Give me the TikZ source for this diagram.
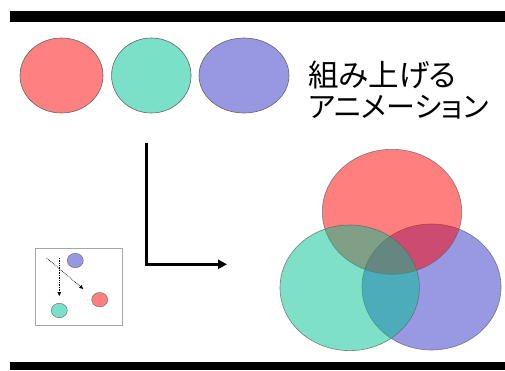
\documentclass[tikz,border=0pt]{standalone}
\usepackage{fontspec}
\newfontfamily\jpfont[RawFeature=+palt]{Noto Sans CJK JP}
\usetikzlibrary{arrows.meta,shapes.geometric}
\definecolor{cred}{RGB}{255,128,128}
\definecolor{cgreen}{RGB}{122,224,200}
\definecolor{cblue}{RGB}{152,152,226}
\definecolor{bred}{RGB}{255,0,0}
\definecolor{bgreen}{RGB}{0,193,145}
\definecolor{bblue}{RGB}{51,51,200}
\definecolor{edge}{RGB}{100,100,100}
\tikzset{
  bar/.style={fill=black,draw=none},
  oval/.style={ellipse,draw=edge,line width=0.6pt,inner sep=0pt},
  venn/.style={ellipse,draw=edge,line width=0.6pt,inner sep=0pt,fill opacity=0.5,draw opacity=0.8},
  small/.style={ellipse,draw=edge,line width=0.4pt,inner sep=0pt,minimum width=16pt,minimum height=14.5pt},
  jp/.style={anchor=base west,inner sep=0pt,font=\jpfont\fontsize{30.5}{36}\selectfont},
  jptwo/.style={anchor=base west,inner sep=0pt,font=\jpfont\fontsize{29}{36}\selectfont},
  bigarrow/.style={line width=2.6pt,-{Triangle[length=9pt,width=9pt]}},
  dotarrow/.style={densely dotted,line width=0.7pt,-{Triangle[length=4pt,width=3.5pt]}}
}
\begin{document}
\begin{tikzpicture}[x=1pt,y=-1pt]
\useasboundingbox (0,0) rectangle (505,370);
\fill[bar] (10,11) rectangle (505,22);
\fill[bar] (10,362) rectangle (505,370);
% top ovals
\node[oval,fill=cred,minimum width=83pt,minimum height=75pt] (r1) at (61.5,75.5) {};
\node[oval,fill=cgreen,minimum width=79.5pt,minimum height=75pt] (g1) at (151.3,75.5) {};
\node[oval,fill=cblue,minimum width=90pt,minimum height=75pt] (b1) at (244,75.5) {};
% text
\node[jp] (t1) at (308,86) {組み上げる};
\node[jptwo] (t2) at (308,117.5) {アニメーション};
% L arrow
\coordinate (la) at (146.7,142.7);
\coordinate (lb) at (146.7,264.3);
\coordinate (lc) at (227,264.3);
\draw[bigarrow] (la) -- (lb) -- (lc);
% inset
\node[draw=gray!70,line width=0.6pt,minimum width=87.7pt,minimum height=76.7pt,inner sep=0pt] (box) at (78.85,286.65) {};
\node[small,fill=cblue] (sb) at (75.3,260.5) {};
\node[small,fill=cred] (sr) at (99.7,299.7) {};
\node[small,fill=cgreen] (sg) at (59.3,310.5) {};
\coordinate (d1) at (59.3,258);
\coordinate (d2) at (59.3,296);
\coordinate (d3) at (46.7,258);
\coordinate (d4) at (83.3,289);
\draw[dotarrow] (d1) -- (d2);
\draw[dotarrow] (d3) -- (d4);
% venn
\node[venn,fill=bblue,minimum width=139pt,minimum height=126pt] (vb) at (431.5,287) {};
\node[venn,fill=bred,minimum width=139.4pt,minimum height=125pt] (vr) at (392,211.8) {};
\node[venn,fill=bgreen,minimum width=139.4pt,minimum height=125.6pt] (vg) at (349.7,287.8) {};
\end{tikzpicture}
\end{document}
